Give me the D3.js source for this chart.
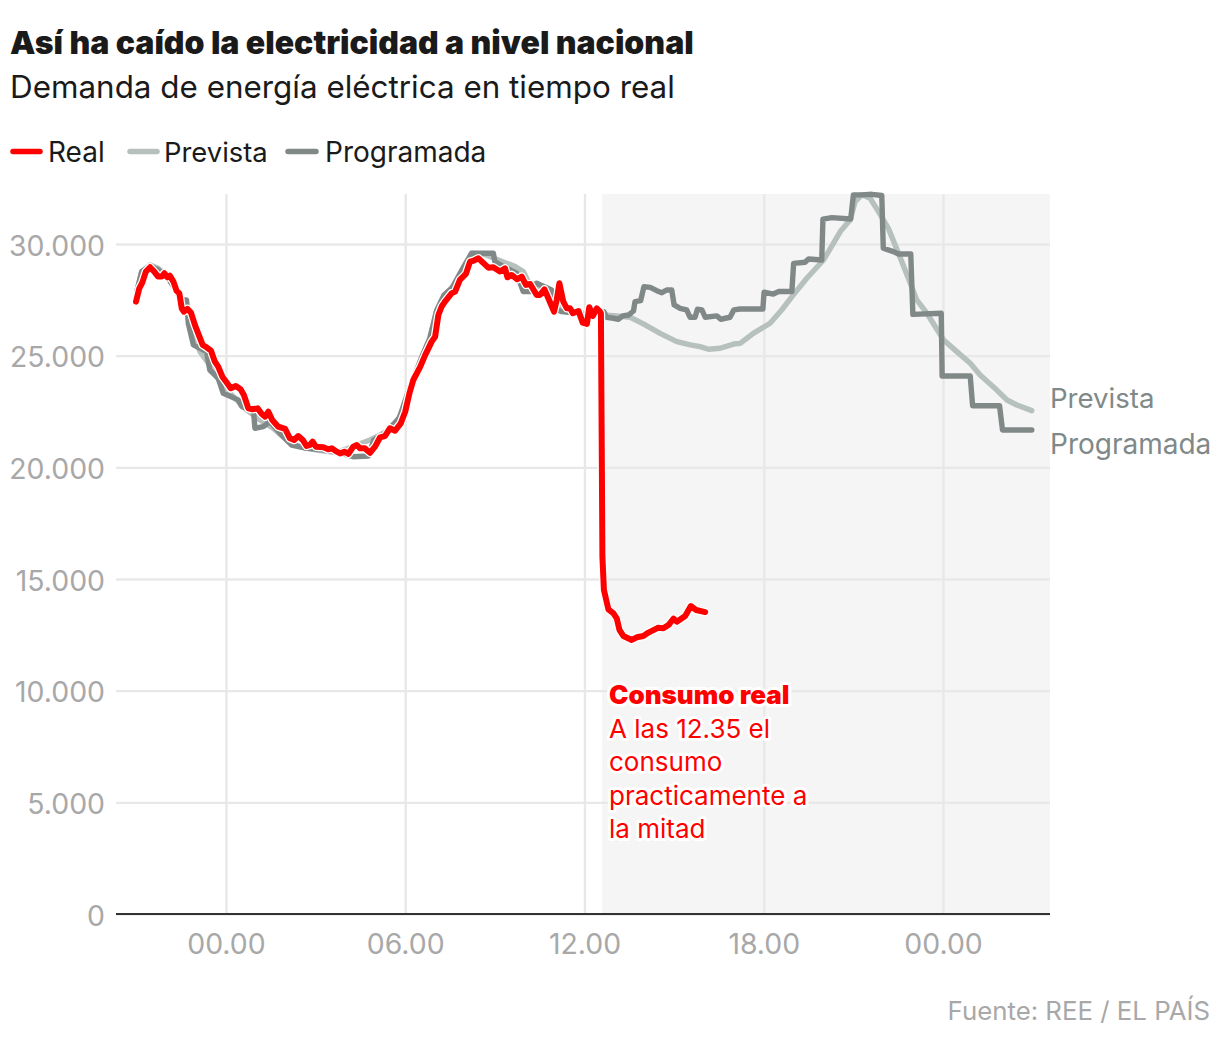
<!DOCTYPE html>
<html lang="es">
<head>
<meta charset="utf-8">
<title>Así ha caído la electricidad a nivel nacional</title>
<script src="https://cdn.jsdelivr.net/npm/d3@7"></script>
<style>
html,body{margin:0;padding:0;background:#fff;}
svg{display:block;}
text{font-family:"Inter","Liberation Sans",sans-serif;}
</style>
</head>
<body>
<svg id="chart" width="1220" height="1040"></svg>
<script>
// [hour since first midnight, MW]
const realPoints = [[-3.01,27420],[-2.9,28017],[-2.8,28270],[-2.68,28764],[-2.54,28958],[-2.4,28764],[-2.27,28540],[-2.15,28540],[-2.06,28690],[-1.96,28510],[-1.88,28585],[-1.76,28316],[-1.65,27900],[-1.56,27790],[-1.48,27120],[-1.41,26970],[-1.29,27090],[-1.17,26930],[-1.04,26375],[-0.93,26000],[-0.78,25480],[-0.65,25375],[-0.5,25225],[-0.37,24730],[-0.26,24510],[-0.12,24060],[0,23840],[0.16,23540],[0.33,23645],[0.49,23495],[0.6,23240],[0.75,22640],[0.89,22600],[1.06,22640],[1.2,22390],[1.31,22270],[1.42,22490],[1.55,22120],[1.75,21820],[1.98,21720],[2.14,21300],[2.28,21225],[2.42,21400],[2.57,21225],[2.7,20955],[2.81,21000],[2.9,21150],[3.01,20925],[3.26,20900],[3.42,20810],[3.54,20850],[3.71,20700],[3.82,20625],[3.98,20700],[4.1,20600],[4.26,20925],[4.38,21000],[4.49,20850],[4.65,20850],[4.82,20655],[4.99,20925],[5.16,21345],[5.32,21400],[5.49,21750],[5.66,21640],[5.85,21970],[6,22490],[6.14,23315],[6.27,23910],[6.5,24500],[6.66,25000],[6.885,25630],[7,25850],[7.11,26820],[7.22,27200],[7.33,27420],[7.55,27790],[7.67,27870],[7.83,28390],[8.03,28660],[8.17,29210],[8.3,29260],[8.45,29360],[8.62,29140],[8.78,28940],[8.95,28960],[9.17,28770],[9.34,28910],[9.42,28510],[9.56,28615],[9.75,28420],[9.9,28540],[10.04,28170],[10.18,28210],[10.4,27720],[10.51,27720],[10.66,27970],[10.79,27570],[10.98,26970],[11.07,27490],[11.16,28240],[11.29,27420],[11.41,27120],[11.52,27120],[11.61,26900],[11.8,27000],[11.94,26480],[12.08,26420],[12.16,27170],[12.28,26780],[12.41,27120],[12.52,26970],[12.55,26900],[12.6,16000],[12.65,14510],[12.8,13640],[12.97,13460],[13.08,13240],[13.17,12720],[13.3,12450],[13.58,12270],[13.75,12390],[13.97,12450],[14.14,12600],[14.47,12820],[14.64,12790],[14.81,12940],[14.98,13225],[15.09,13090],[15.37,13340],[15.56,13790],[15.74,13610],[16.04,13520]];

const previstaPoints = [[-2.97,27940],[-2.82,28764],[-2.54,29060],[-2.27,28910],[-1.93,28540],[-1.71,28020],[-1.48,27420],[-1.26,26820],[-1.09,26000],[-0.87,25180],[-0.59,24660],[-0.31,24060],[-0.03,23540],[0.36,23020],[0.69,22570],[1.14,22120],[1.58,21750],[2.03,21225],[2.48,20925],[3.04,20775],[3.7,20660],[3.93,20775],[4.38,21000],[4.82,21225],[5.16,21450],[5.6,21820],[6.02,22720],[6.24,23610],[6.6,25030],[6.82,25700],[7.04,26970],[7.32,27720],[7.54,28020],[7.82,28465],[8.02,29000],[8.22,29585],[8.62,29555],[9.06,29315],[9.68,28990],[9.95,28765],[10.12,28315],[10.51,28090],[10.96,27640],[11.29,27120],[11.74,26970],[12.19,26820],[12.63,26820],[13.08,26780],[13.53,26720],[13.97,26420],[14.53,26000],[15.09,25630],[15.54,25480],[15.87,25405],[16.15,25285],[16.54,25330],[16.99,25520],[17.21,25550],[17.65,26000],[18.21,26450],[18.6,27045],[18.99,27720],[19.44,28465],[20,29285],[20.33,30030],[20.56,30555],[20.89,31075],[21.06,31900],[21.28,32200],[21.56,32050],[21.84,31450],[22.17,30700],[22.51,29580],[22.84,28465],[23.12,27495],[23.46,26900],[24.02,25700],[24.46,25180],[24.91,24660],[25.24,24130],[25.8,23460],[26.14,23015],[26.47,22790],[26.97,22540]];

const programadaPoints = [[-2.97,27940],[-2.82,28764],[-2.54,29000],[-2.27,28850],[-1.93,28450],[-1.71,28000],[-1.5,27500],[-1.32,27495],[-1.26,26450],[-1.09,25480],[-0.65,25180],[-0.54,24360],[-0.26,23990],[-0.09,23315],[0.41,23020],[0.53,22720],[0.92,22570],[0.97,21750],[1.25,21820],[1.47,22050],[1.81,21525],[2.2,21000],[2.7,20850],[3.5,20750],[4.26,20475],[4.77,20510],[4.95,21225],[5.3,21500],[5.8,22200],[6.1,23390],[6.58,25030],[6.82,25780],[7.06,27050],[7.3,27720],[7.56,28020],[7.96,28990],[8.22,29585],[8.95,29585],[9,29210],[9.29,28990],[9.73,28690],[9.95,27870],[10.23,27870],[10.4,28240],[10.9,27940],[11,27100],[11.24,26970],[11.74,26900],[12.19,26750],[12.65,26970],[12.74,26720],[12.97,26675],[13.13,26630],[13.28,26780],[13.47,26820],[13.64,27000],[13.69,27420],[13.88,27465],[13.99,28090],[14.2,28060],[14.42,27910],[14.59,27820],[14.75,27940],[14.92,27940],[15,27270],[15.2,27120],[15.42,27050],[15.53,26720],[15.7,26720],[15.78,27080],[15.93,27050],[16.04,26720],[16.43,26780],[16.56,26630],[16.87,26720],[17,27050],[17.21,27090],[17.97,27090],[18.01,27840],[18.32,27760],[18.49,27870],[18.94,27870],[19,29135],[19.38,29180],[19.5,29330],[19.94,29285],[19.98,31110],[20.28,31180],[20.91,31120],[21,32200],[21.28,32200],[21.62,32225],[21.95,32170],[22,29810],[22.34,29660],[22.51,29555],[22.92,29555],[22.99,26850],[23.94,26900],[23.97,24090],[24.91,24090],[24.99,22760],[25.89,22760],[25.99,21670],[26.97,21670]];

const yTicks = [0,5000,10000,15000,20000,25000,30000];
const xTicks = [0,6,12,18,24];
const xTickLabels = ["00.00","06.00","12.00","18.00","00.00"];
const legendNames = ["Real","Prevista","Programada"];
const noteLines = ["A las 12.35 el","consumo","practicamente a","la mitad"];
const shadeStartHour = 12.59;

const RED="#ff0000", LIGHT="#b6c0bc", DARK="#808988", GRID="#e8e8e8", AXIS="#a8a8a8", INK="#1a1a1a";

const svg = d3.select("#chart");
const x = d3.scaleLinear().domain([-3.68,27.58]).range([116,1050]);
const y = d3.scaleLinear().domain([0,30000]).range([914,244]);
const plotTop = 194;

// title
svg.append("text").attr("x",10).attr("y",54).attr("font-size",32).attr("font-weight",900).attr("fill",INK).text("Así ha caído la electricidad a nivel nacional");
svg.append("text").attr("x",10).attr("y",98).attr("font-size",31.4).attr("font-weight",400).attr("fill",INK).text("Demanda de energía eléctrica en tiempo real");

// legend
const legendX=[13,130,288], legendEnd=[40,157,316], legendTextX=[48,164,325], legendCol=[RED,LIGHT,DARK];
legendNames.forEach((n,i)=>{
  svg.append("line").attr("x1",legendX[i]).attr("x2",legendEnd[i]).attr("y1",151.5).attr("y2",151.5)
    .attr("stroke",legendCol[i]).attr("stroke-width",5.5).attr("stroke-linecap","round");
  svg.append("text").attr("x",legendTextX[i]).attr("y",162).attr("font-size",i===1?27.4:28).attr("fill",INK).text(n);
});

// shaded forecast
svg.append("rect").attr("x",x(shadeStartHour)).attr("y",plotTop).attr("width",x.range()[1]-x(shadeStartHour)).attr("height",y(0)-plotTop).attr("fill","#f5f5f5");

// axes via d3
const gy = svg.append("g").attr("transform",`translate(116,0)`)
  .call(d3.axisLeft(y).tickValues(yTicks).tickSize(-934).tickPadding(11)
    .tickFormat(d=>d3.format(",")(d).replace(/,/g,".")));
gy.select(".domain").remove();
gy.selectAll("line").attr("stroke",GRID).attr("stroke-width",2.4);
gy.selectAll("text").attr("fill",AXIS).attr("font-size",28.4).attr("dy","0.39em");

const gx = svg.append("g").attr("transform",`translate(0,914)`)
  .call(d3.axisBottom(x).tickValues(xTicks).tickSize(-(914-plotTop)).tickPadding(18)
    .tickFormat((d,i)=>xTickLabels[i]));
gx.select(".domain").remove();
gx.selectAll("line").attr("stroke",GRID).attr("stroke-width",2.4);
gx.selectAll("text").attr("fill",AXIS).attr("font-size",28.4).attr("dy","0.76em");

// baseline
svg.append("line").attr("x1",116).attr("x2",1050).attr("y1",y(0)).attr("y2",y(0)).attr("stroke","#333").attr("stroke-width",2);

// lines
const line = d3.line().x(d=>x(d[0])).y(d=>y(d[1])).curve(d3.curveLinear);
const draw=(pts,col,w)=>svg.append("path").attr("d",line(pts)).attr("fill","none").attr("stroke",col)
  .attr("stroke-width",w).attr("stroke-linejoin","round").attr("stroke-linecap","round");
draw(previstaPoints,LIGHT,5.4);
draw(programadaPoints,DARK,5.4);
draw(realPoints,"#ffffff",8.5);
draw(realPoints,RED,6);

// end labels
svg.append("text").attr("x",1050).attr("y",408).attr("font-size",27.6).attr("fill",DARK).text("Prevista");
svg.append("text").attr("x",1050).attr("y",454).attr("font-size",28).attr("fill",DARK).text("Programada");

// annotation
const halo=s=>s.attr("stroke","#fff").attr("stroke-width",6).attr("stroke-linejoin","round").attr("paint-order","stroke");
halo(svg.append("text").attr("x",609).attr("y",704).attr("font-size",26).attr("font-weight",900).attr("fill",RED).text("Consumo real"));
noteLines.forEach((t,i)=>{
  halo(svg.append("text").attr("x",609).attr("y",737.5+i*33.5).attr("font-size",26).attr("fill",RED).text(t));
});

// source
svg.append("text").attr("x",1210).attr("y",1020).attr("text-anchor","end").attr("font-size",25.8).attr("fill",AXIS).text("Fuente: REE / EL PAÍS");
</script>
</body>
</html>
